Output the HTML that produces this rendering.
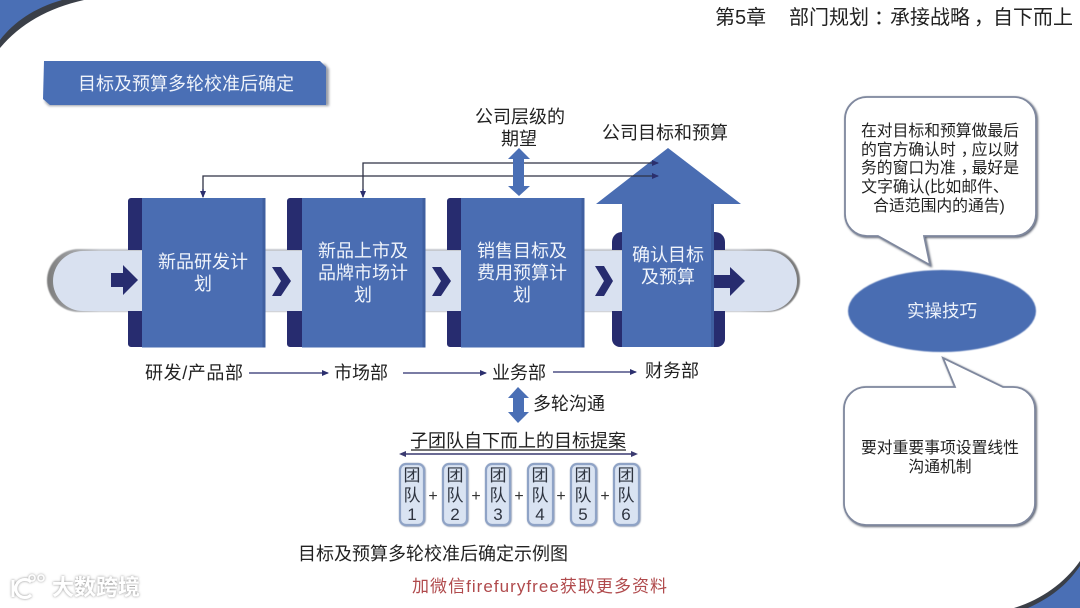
<!DOCTYPE html>
<html lang="zh"><head><meta charset="utf-8"><style>
html,body{margin:0;padding:0;background:#fff}
svg{display:block}
text{font-family:"Liberation Sans","Noto Sans CJK SC",sans-serif}
.k{fill:#222;font-size:18px}
.w{fill:#f0f4fb;font-size:18px;text-anchor:middle}
.c{fill:#222;font-size:15.8px;text-anchor:middle}
.t{fill:#2e3440;font-size:17px;text-anchor:middle}
</style></head><body>
<svg width="1080" height="608" viewBox="0 0 1080 608" xmlns="http://www.w3.org/2000/svg">
<defs>
<filter id="b1" x="-20%" y="-20%" width="140%" height="140%"><feGaussianBlur stdDeviation="1.2"/></filter>
<filter id="b2" x="-20%" y="-20%" width="140%" height="140%"><feGaussianBlur stdDeviation="0.6"/></filter>
<filter id="cs" x="-10%" y="-10%" width="120%" height="120%"><feDropShadow dx="1" dy="1" stdDeviation="1" flood-color="#555b6b"/></filter>
<filter id="ts" x="-20%" y="-20%" width="140%" height="140%"><feDropShadow dx="0.500" dy="0.500" stdDeviation="0.800" flood-color="#7f8ca6"/></filter>
<filter id="ws" x="-20%" y="-40%" width="140%" height="180%"><feDropShadow dx="0" dy="0" stdDeviation="1.300" flood-color="#8a8a8a"/></filter>
<linearGradient id="ps" gradientUnits="userSpaceOnUse" x1="47" x2="800" y1="0" y2="0"><stop offset="0" stop-color="#7b7b7b"/><stop offset=".07" stop-color="#c6c9cf"/><stop offset=".92" stop-color="#c6c9cf"/><stop offset=".99" stop-color="#7b7b7b"/></linearGradient>
<marker id="ah" markerWidth="7" markerHeight="7" refX="6" refY="3" orient="auto" markerUnits="userSpaceOnUse"><path d="M0,0L7,3L0,6z" fill="#2b2f6e"/></marker>
</defs>
<rect width="1080" height="608" fill="#fff"/>

<!-- corners -->
<path d="M0,48C20,24 48,8 84,0L58,0C34,6 14,20 0,38z" fill="#3a3f48"/>
<path d="M0,40C14,22 34,8 62,0L0,0z" fill="#4a6fb5"/>
<path d="M1080,561C1064,584 1040,600 1014,608L1080,608z" fill="#3a3f48"/>
<path d="M1080,566C1066,586 1050,598 1028,608L1080,608z" fill="#4a6fb5"/>

<!-- header -->
<text x="715" y="24" font-size="20" fill="#222">第5章</text>
<text x="789" y="24" font-size="20" fill="#222">部门规划</text>
<text x="874" y="24" font-size="20" fill="#222">：</text>
<text x="890" y="24" font-size="20" fill="#222">承接战略</text>
<text x="974" y="24" font-size="20" fill="#222">，</text>
<text x="993" y="24" font-size="20" fill="#222">自下而上</text>

<!-- title -->
<path d="M47,64H325L329,69V106H49L45,102z" fill="#9a9ea8" filter="url(#b1)"/>
<path d="M44,61H320L326,67V105H50L43,99z" fill="#4a6fb5"/>
<text x="78" y="90" font-size="18" fill="#f0f4fb">目标及预算多轮校准后确定</text>

<!-- pipe -->
<rect x="47" y="249" width="753" height="63" rx="32" ry="31.500" fill="url(#ps)" filter="url(#b2)"/>
<rect x="53" y="251" width="744" height="60" rx="30" ry="30" fill="#d9e1f0"/>

<!-- boxes -->
<g>
<path d="M128,201a3,3 0 0 1 3,-3H143V250H128zM128,311H143V347H131a3,3 0 0 1 -3,-3z" fill="#272c6f"/>
<rect x="142" y="198" width="123.500" height="149.500" fill="#4a6db2"/><rect x="262.500" y="198" width="3" height="149.500" fill="#3f5fa0"/>
<path d="M287,201a3,3 0 0 1 3,-3H302V250H287zM287,311H302V347H290a3,3 0 0 1 -3,-3z" fill="#272c6f"/>
<rect x="302" y="198" width="123.500" height="149.500" fill="#4a6db2"/><rect x="422.500" y="198" width="3" height="149.500" fill="#3f5fa0"/>
<path d="M447,201a3,3 0 0 1 3,-3H462V250H447zM447,311H462V347H450a3,3 0 0 1 -3,-3z" fill="#272c6f"/>
<rect x="461" y="198" width="123.500" height="149.500" fill="#4a6db2"/><rect x="581.500" y="198" width="3" height="149.500" fill="#3f5fa0"/>
<path d="M612,250V242a10,10 0 0 1 10,-10H715a10,10 0 0 1 10,10V250z" fill="#272c6f"/>
<path d="M612,311V339a8,8 0 0 0 8,8H717a8,8 0 0 0 8,-8V311z" fill="#272c6f"/>
<path d="M622,347V204H596L668,148L741,204H714V347z" fill="#4a6db2"/>
<path d="M711,204H714V347H711z" fill="#3f5fa0"/>
</g>

<!-- pipe arrows -->
<path d="M111,273H123V265L138,280L123,295V287H111z" fill="#272c6f"/>
<path d="M272,267H281L291,281L281,296H272L281,281z" fill="#272c6f"/>
<path d="M432,267H441L451,281L441,296H432L441,281z" fill="#272c6f"/>
<path d="M595,266H604L613,281L604,296H595L604,281z" fill="#272c6f"/>
<path d="M714,275H730V267L745,281L730,296V288H714z" fill="#272c6f"/>

<!-- box text -->
<text class="w" x="203" y="268">新品研发计</text><text class="w" x="203" y="290">划</text>
<text class="w" x="363" y="257">新品上市及</text><text class="w" x="363" y="279">品牌市场计</text><text class="w" x="363" y="301">划</text>
<text class="w" x="522" y="257">销售目标及</text><text class="w" x="522" y="279">费用预算计</text><text class="w" x="522" y="301">划</text>
<text class="w" x="668" y="261">确认目标</text><text class="w" x="668" y="283">及预算</text>

<!-- feedback lines -->
<path d="M363,197V163H658" fill="none" stroke="#2f3245" stroke-width="1.300" marker-end="url(#ah)"/>
<path d="M203,197V176H658" fill="none" stroke="#2f3245" stroke-width="1.300" marker-end="url(#ah)"/>
<path d="M363,189V197" stroke="#2b2f6e" stroke-width="1.300" marker-end="url(#ah)"/>
<path d="M203,189V197" stroke="#2b2f6e" stroke-width="1.300" marker-end="url(#ah)"/>

<!-- double arrow top -->
<path d="M519,148L530,159H524V186H530L519,196L508,186H513V159H508z" fill="#4a6fb5"/>
<text class="k" x="475" y="123">公司层级的</text>
<text class="k" x="501" y="145">期望</text>
<text class="k" x="602" y="139">公司目标和预算</text>

<!-- departments -->
<text class="k" x="145" y="379" textLength="98" lengthAdjust="spacing">研发/产品部</text>
<text class="k" x="334" y="379">市场部</text>
<text class="k" x="492" y="379">业务部</text>
<text class="k" x="645" y="377">财务部</text>
<path d="M249,373H328" stroke="#2b2f6e" stroke-width="1.300" marker-end="url(#ah)"/>
<path d="M403,373H486" stroke="#2b2f6e" stroke-width="1.300" marker-end="url(#ah)"/>
<path d="M553,372H636" stroke="#2b2f6e" stroke-width="1.300" marker-end="url(#ah)"/>

<!-- multi-round -->
<path d="M518,387L529,398H524V412H529L518,423L508,412H513V398H508z" fill="#4a6fb5"/>
<text class="k" x="533" y="410">多轮沟通</text>
<text class="k" x="410" y="447">子团队自下而上的目标提案</text>
<path d="M411,450H626" stroke="#222" stroke-width="1.200"/>
<path d="M405,454H632" stroke="#3a3a70" stroke-width="1.500"/>
<path d="M399,454L406,451V457z M638,454L631,451V457z" fill="#3a3a70"/>

<!-- teams -->
<g fill="#d9e3f2" stroke="#8fa3c6" stroke-width="2.200" filter="url(#ts)">
<rect x="400" y="464" width="24" height="61" rx="6"/>
<rect x="443" y="464" width="24" height="61" rx="6"/>
<rect x="486" y="464" width="24" height="61" rx="6"/>
<rect x="528" y="464" width="25" height="61" rx="6"/>
<rect x="571" y="464" width="25" height="61" rx="6"/>
<rect x="614" y="464" width="25" height="61" rx="6"/>
</g>
<text class="t" x="412" y="481">团</text><text class="t" x="412" y="501">队</text><text class="t" x="412" y="520">1</text>
<text class="t" x="455" y="481">团</text><text class="t" x="455" y="501">队</text><text class="t" x="455" y="520">2</text>
<text class="t" x="498" y="481">团</text><text class="t" x="498" y="501">队</text><text class="t" x="498" y="520">3</text>
<text class="t" x="540" y="481">团</text><text class="t" x="540" y="501">队</text><text class="t" x="540" y="520">4</text>
<text class="t" x="583" y="481">团</text><text class="t" x="583" y="501">队</text><text class="t" x="583" y="520">5</text>
<text class="t" x="626" y="481">团</text><text class="t" x="626" y="501">队</text><text class="t" x="626" y="520">6</text>
<g fill="#333" text-anchor="middle" font-size="16">
<text x="433" y="501">+</text>
<text x="476" y="501">+</text>
<text x="519" y="501">+</text>
<text x="561" y="501">+</text>
<text x="605" y="501">+</text>
</g>

<!-- captions -->
<text class="k" x="298" y="560">目标及预算多轮校准后确定示例图</text>
<text x="412" y="592" font-size="17" fill="#b04a4c" textLength="255" lengthAdjust="spacing">加微信firefuryfree获取更多资料</text>

<!-- watermark -->
<g fill="none" stroke="#fff" stroke-width="3" filter="url(#ws)">
<path d="M13,580V597"/>
<path d="M31,582A9,9 0 1 0 31,595"/>
<circle cx="32" cy="578" r="3" stroke-width="1.500"/>
<circle cx="41" cy="578" r="3" stroke-width="1.500"/>
</g>
<text x="52" y="595" font-size="22" font-weight="bold" fill="#fff" filter="url(#ws)">大数跨境</text>

<!-- callout top -->
<path d="M867,97H1014A22,22 0 0 1 1036,119V214A22,22 0 0 1 1014,236H924L930,265L878,236H867A22,22 0 0 1 845,214V119A22,22 0 0 1 867,97z" fill="#fff" stroke="#7f889e" stroke-width="1.800" filter="url(#cs)"/>
<text class="c" x="940" y="136">在对目标和预算做最后</text>
<text class="c" x="940" y="155">的官方确认时<tspan dx="5">，</tspan><tspan dx="-5">应以财</tspan></text>
<text class="c" x="940" y="173">务的窗口为准<tspan dx="5">，</tspan><tspan dx="-5">最好是</tspan></text>
<text class="c" x="935" y="192">文字确认(比如邮件、</text>
<text class="c" x="939" y="211">合适范围内的通告)</text>

<!-- ellipse -->
<ellipse cx="942" cy="311" rx="94" ry="41" fill="#4a6db2" filter="url(#b2)"/>
<text x="942" y="317" font-size="17.500" fill="#eef3fb" text-anchor="middle">实操技巧</text>

<!-- callout bottom -->
<path d="M866,387H955L943,358L1003,387H1013A22,22 0 0 1 1035,409V503A22,22 0 0 1 1013,525H866A22,22 0 0 1 844,503V409A22,22 0 0 1 866,387z" fill="#fff" stroke="#7f889e" stroke-width="1.800" filter="url(#cs)"/>
<text class="c" x="940" y="453">要对重要事项设置线性</text>
<text class="c" x="940" y="472">沟通机制</text>
</svg>
</body></html>
